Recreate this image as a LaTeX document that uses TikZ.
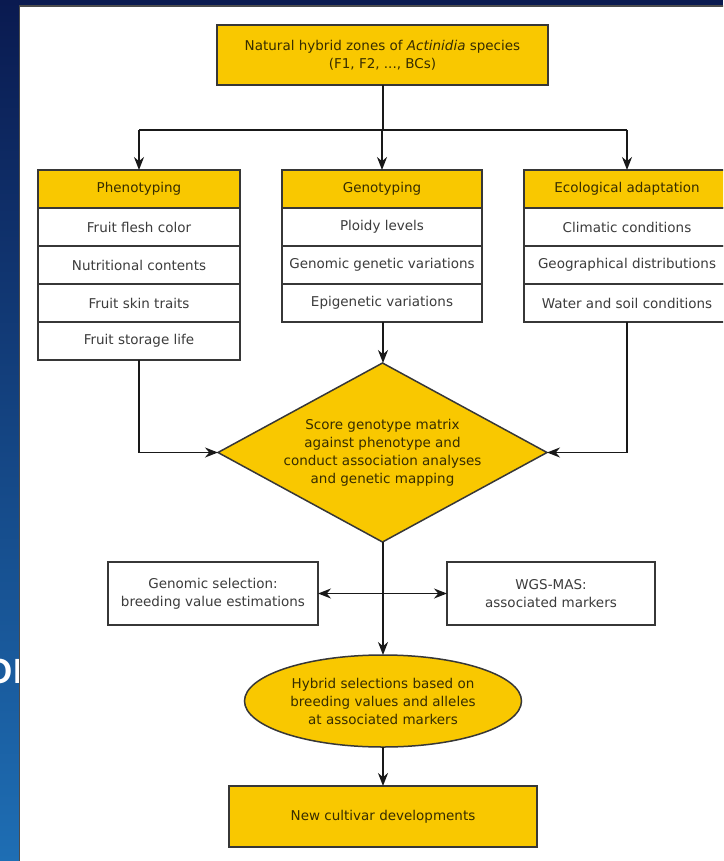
\documentclass[tikz,border=0pt]{standalone}
\usepackage{fontspec}
\setmainfont{DejaVu Sans}
\newfontfamily\slidefont{Liberation Sans}
\usetikzlibrary{arrows.meta}
\usetikzlibrary{positioning}
\usetikzlibrary{shapes.geometric}
\definecolor{boxyellow}{RGB}{249,200,0}
\definecolor{boxline}{RGB}{55,55,55}
\definecolor{yellowtext}{RGB}{55,45,0}
\definecolor{greytext}{RGB}{60,60,60}
\definecolor{slidenavy}{RGB}{10,26,80}
\definecolor{slideblue}{RGB}{0,50,160}
\definecolor{slidelight}{RGB}{30,110,180}

\begin{document}
\begin{tikzpicture}[x=1pt, y=-1pt,
	every node/.style={font=\fontsize{13.5}{18}\selectfont, align=center, outer sep=0pt, inner sep=2pt},
	cell/.style={rectangle, draw=boxline, line width=1.5pt, fill=white, text=greytext, minimum height=38pt},
	head/.style={cell, fill=boxyellow, text=yellowtext},
	yellowbox/.style={head, minimum width=#1},
	whitebox/.style={cell, minimum width=#1},
	link/.style={draw=black!90, line width=1.6pt},
	arr/.style={link, -{Stealth[length=13pt,width=10pt]}},
	arrboth/.style={link, {Stealth[length=13pt,width=10pt]}-{Stealth[length=13pt,width=10pt]}}]

	\useasboundingbox (0,0) rectangle (723,861);
	\clip (0,0) rectangle (723,861);

	% slide behind the figure
	\fill[slidenavy] (0,0) rectangle (723,861);
	\shade[top color=slidenavy, middle color=slideblue, bottom color=slidelight] (0,0) rectangle (22,861);
	\node[anchor=base west, inner sep=0pt, text=white, font=\slidefont\bfseries\fontsize{35}{35}\selectfont] (slidetext) at (-14,683) {ON};
	\filldraw[fill=white, draw=black!70, line width=1.5pt] (19.5,6) rectangle (740,880);

	\node[yellowbox=331pt, minimum height=60pt] (zones) at (382.5,55) {Natural hybrid zones of \textit{Actinidia} species\\(F1, F2, ..., BCs)};

	\node[yellowbox=202pt] (phenoH) at (139,189) {Phenotyping};
	\node[whitebox=202pt, below=0pt of phenoH] (pheno1) {Fruit flesh color};
	\node[whitebox=202pt, below=0pt of pheno1] (pheno2) {Nutritional contents};
	\node[whitebox=202pt, below=0pt of pheno2] (pheno3) {Fruit skin traits};
	\node[whitebox=202pt, below=0pt of pheno3] (pheno4) {Fruit storage life};

	\node[yellowbox=200pt] (genoH) at (382,189) {Genotyping};
	\node[whitebox=200pt, below=0pt of genoH] (geno1) {Ploidy levels};
	\node[whitebox=200pt, below=0pt of geno1] (geno2) {Genomic genetic variations};
	\node[whitebox=200pt, below=0pt of geno2] (geno3) {Epigenetic variations};

	\node[yellowbox=206pt] (ecoH) at (627,189) {Ecological adaptation};
	\node[whitebox=206pt, below=0pt of ecoH] (eco1) {Climatic conditions};
	\node[whitebox=206pt, below=0pt of eco1] (eco2) {Geographical distributions};
	\node[whitebox=206pt, below=0pt of eco2] (eco3) {Water and soil conditions};

	\node[diamond, aspect=1.84, draw=boxline, line width=1.5pt, fill=boxyellow, text=yellowtext, inner sep=0pt, minimum width=329pt, minimum height=179pt] (score) at (382.5,452.5) {Score genotype matrix\\against phenotype and\\conduct association analyses\\and genetic mapping};

	\node[whitebox=210pt, minimum height=63pt] (gensel) at (213,593.5) {Genomic selection:\\breeding value estimations};
	\node[whitebox=208pt, minimum height=63pt] (wgs) at (551,593.5) {WGS-MAS:\\associated markers};

	\node[ellipse, draw=boxline, line width=1.5pt, fill=boxyellow, text=yellowtext, minimum width=277pt, minimum height=92pt] (hybrid) at (383,701) {Hybrid selections based on\\breeding values and alleles\\at associated markers};

	\node[yellowbox=308pt, minimum height=61pt] (cultivar) at (383,816.5) {New cultivar developments};

	\coordinate (split) at (383,130);
	\draw[link] (zones.south -| split) -- (split);
	\draw[link] (phenoH.north |- split) -- (ecoH.north |- split);
	\foreach \col in {phenoH, genoH, ecoH}
		\draw[arr] (\col.north |- split) -- (\col.north);

	\draw[arr] (pheno4.south) |- (score.west);
	\draw[arr] (eco3.south) |- (score.east);
	\draw[arr] (geno3.south -| split) -- (score.north -| split);
	\draw[arr] (score.south -| split) -- (hybrid.north);
	\draw[arrboth] (gensel.east) -- (wgs.west);
	\draw[arr] (hybrid.south) -- (cultivar.north);
\end{tikzpicture}
\end{document}
